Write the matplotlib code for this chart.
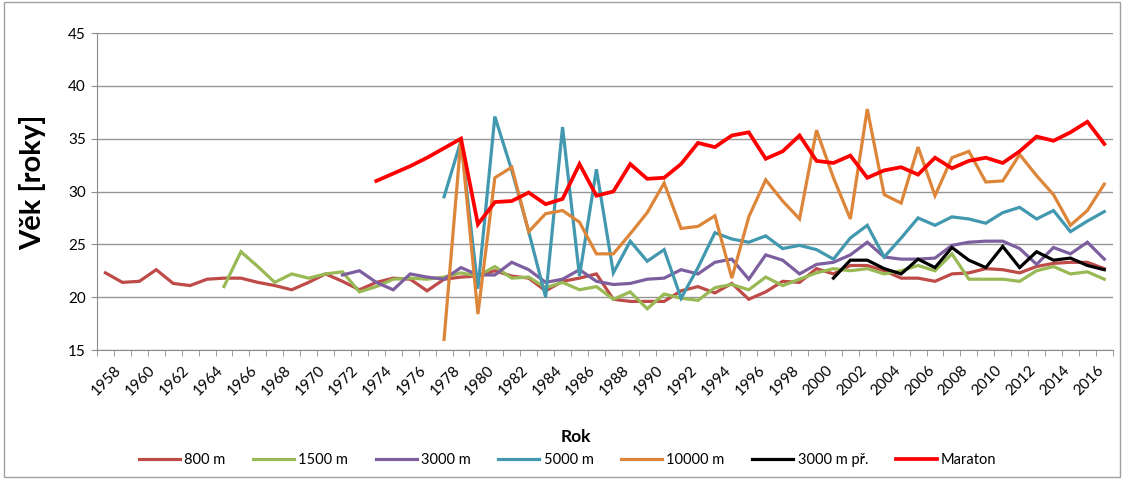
import numpy as np
import matplotlib
matplotlib.use("Agg")
import matplotlib.pyplot as plt
import matplotlib.transforms as mtransforms
from matplotlib.patches import Rectangle

plt.rcParams['font.family'] = ['Lato', 'DejaVu Sans']

years = list(range(1958, 2018))
N = None

m800 = [22.3, 21.4, 21.5, 22.6, 21.3, 21.1, 21.7, 21.8, 21.8, 21.4,
        21.1, 20.7, 21.4, 22.2, 21.5, 20.7, 21.4, 21.8, 21.7, 20.6,
        21.7, 21.9, 22.0, 22.5, 22.0, 21.8, 20.6, 21.5, 21.8, 22.2,
        19.8, 19.6, 19.6, 19.6, 20.6, 21.0, 20.4, 21.3, 19.8, 20.5,
        21.5, 21.4, 22.7, 22.2, 23.0, 23.0, 22.5, 21.8, 21.8, 21.5,
        22.2, 22.3, 22.7, 22.6, 22.3, 22.9, 23.2, 23.3, 23.3, 22.7]

m1500 = [N] * 7 + [
        21.0, 24.3, 22.9, 21.4, 22.2, 21.8, 22.2, 22.4, 20.5, 21.0,
        21.7, 21.8, 21.7, 21.9, 22.3, 22.0, 22.9, 21.8, 21.9, 20.9,
        21.4, 20.7, 21.0, 19.8, 20.5, 18.9, 20.3, 19.9, 19.7, 20.9,
        21.2, 20.7, 21.9, 21.1, 21.7, 22.3, 22.7, 22.5, 22.7, 22.2,
        22.5, 23.0, 22.5, 24.1, 21.7, 21.7, 21.7, 21.5, 22.5, 22.9,
        22.2, 22.4, 21.7]

m3000 = [N] * 14 + [
        22.1, 22.5, 21.4, 20.7, 22.2, 21.9, 21.7, 22.8, 22.1, 22.1,
        23.3, 22.6, 21.4, 21.7, 22.6, 21.5, 21.2, 21.3, 21.7, 21.8,
        22.6, 22.2, 23.3, 23.6, 21.7, 24.0, 23.5, 22.2, 23.1, 23.3,
        24.0, 25.2, 23.8, 23.6, 23.6, 23.7, 24.9, 25.2, 25.3, 25.3,
        24.6, 23.1, 24.7, 24.1, 25.2, 23.6]

m5000 = [N] * 20 + [
        29.5, 34.8, 20.8, 37.1, 32.0, 26.2, 20.0, 36.1, 22.0, 32.1,
        22.3, 25.3, 23.4, 24.5, 19.9, 22.8, 26.1, 25.5, 25.2, 25.8,
        24.6, 24.9, 24.5, 23.6, 25.6, 26.8, 23.8, 25.6, 27.5, 26.8,
        27.6, 27.4, 27.0, 28.0, 28.5, 27.4, 28.2, 26.2, 27.2, 28.1]

m10000 = [N] * 20 + [
        16.0, 35.0, 18.4, 31.3, 32.3, 26.2, 27.9, 28.2, 27.1, 24.1,
        24.1, 26.0, 28.0, 30.8, 26.5, 26.7, 27.7, 21.8, 27.6, 31.1,
        29.1, 27.4, 35.8, 31.3, 27.4, 37.8, 29.7, 28.9, 34.2, 29.6,
        33.2, 33.8, 30.9, 31.0, 33.5, 31.5, 29.7, 26.8, 28.2, 30.7]

steeple = [N] * 43 + [
        21.8, 23.5, 23.5, 22.7, 22.2, 23.6, 22.8, 24.7, 23.5, 22.8,
        24.8, 22.8, 24.3, 23.5, 23.7, 23.0, 22.6]

maraton = [N] * 16 + [
        31.0, 31.7, 32.4, 33.2, 34.1, 35.0, 26.9, 29.0, 29.1, 29.9,
        28.8, 29.3, 32.6, 29.6, 30.0, 32.6, 31.2, 31.3, 32.6, 34.6,
        34.2, 35.3, 35.6, 33.1, 33.8, 35.3, 32.9, 32.7, 33.4, 31.3,
        32.0, 32.3, 31.6, 33.2, 32.2, 32.9, 33.2, 32.7, 33.8, 35.2,
        34.8, 35.6, 36.6, 34.5]

series = [
    ("800 m", m800, "#BE4B48"),
    ("1500 m", m1500, "#98B954"),
    ("3000 m", m3000, "#7D5FA0"),
    ("5000 m", m5000, "#4198AF"),
    ("10000 m", m10000, "#DD8539"),
    ("3000 m př.", steeple, "#000000"),
    ("Maraton", maraton, "#FF0000"),
]

fig = plt.figure(figsize=(11.24, 4.79), dpi=100)
ax = fig.add_axes([0.0863, 0.2693, 0.9037, 0.6618])

x = np.arange(len(years))
for name, vals, col in series:
    y = np.array([np.nan if v is None else v for v in vals], dtype=float)
    lw = 2.7 if name == "Maraton" else 2.3
    ax.plot(x, y, color=col, lw=lw, label=name, solid_joinstyle='miter')

ax.set_xlim(-0.5, len(years) - 0.5)
ax.set_ylim(15, 45)
ax.set_yticks(range(15, 50, 5))
ax.yaxis.grid(True, color='#969696', lw=1)
ax.set_axisbelow(True)

# every second year labelled, tick marks on category boundaries
ax.set_xticks(x[::2])
ax.set_xticklabels([str(yr) for yr in years[::2]], rotation=45,
                   ha='right', va='center', rotation_mode='anchor')
ax.set_xticks(np.arange(-0.5, len(years), 1), minor=True)
ax.tick_params(axis='x', which='major', length=0, pad=13, labelsize=11)
ax.tick_params(axis='x', which='minor', length=4, color='#8C8C8C', direction='out')
ax.tick_params(axis='y', length=4, color='#8C8C8C', labelsize=11, pad=4)
shift = mtransforms.ScaledTranslation(14 / 100, 0, fig.dpi_scale_trans)
for lab in ax.get_xticklabels():
    lab.set_transform(lab.get_transform() + shift)

for side in ('top', 'right'):
    ax.spines[side].set_visible(False)
for side in ('left', 'bottom'):
    ax.spines[side].set_color('#8C8C8C')

fig.text(0.029, 0.62, "Věk [roky]", rotation=90, ha='center', va='center',
         fontsize=21, fontweight='bold')
fig.text(0.512, 0.088, "Rok", ha='center', va='center', fontsize=12.5,
         fontweight='bold')

fig.legend(loc='center', bbox_to_anchor=(0.505, 0.04), ncol=7, frameon=False,
           fontsize=10.5, handlelength=2.8, columnspacing=1.9, handletextpad=0.3)

fig.patches.append(Rectangle((0.004, 0.004), 0.992, 0.992, transform=fig.transFigure,
                             fill=False, edgecolor='#A0A0A0', lw=1))

fig.savefig("out.png", dpi=100, facecolor='white')
